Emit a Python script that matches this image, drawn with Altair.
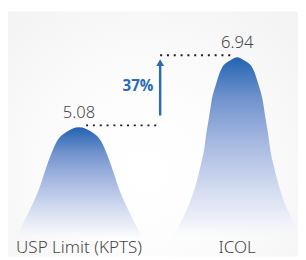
import altair as alt
import pandas as pd

# ---- data ----
categories = ["USP Limit (KPTS)", "ICOL"]
cat_pos = [0.0, 1.0]
values = [5.08, 6.94]
value_labels = ["5.08", "6.94"]
change_label = "37%"

# bell profiles: offset from centre (x units) and height (value units), peak outward
left_dx = [0.0, 0.043, 0.080, 0.1415, 0.178, 0.215, 0.249, 0.292, 0.332, 0.363, 0.394]
left_v = [5.08, 5.044, 4.953, 4.695, 4.351, 3.920, 3.488, 3.059, 2.713, 2.455, 2.214]
right_dx = [0.0, 0.043, 0.0985, 0.135, 0.162, 0.178, 0.195, 0.209, 0.231, 0.257, 0.289, 0.332, 0.375, 0.406]
right_v = [6.94, 6.858, 6.641, 6.212, 5.780, 5.349, 4.920, 4.488, 4.057, 3.628, 3.196, 2.765, 2.421, 2.163]
bell_base = 2.10

# annotation geometry (data units)
arrow_x = 0.513
arrow_from = 5.393
arrow_head = 6.795
label_y = 1.749
pct_y = 6.038
left_line_start = 0.045
right_line_end = 0.978

# ---- tables ----
rows = []
for name, c, dxs, vs in [("left", cat_pos[0], left_dx, left_v), ("right", cat_pos[1], right_dx, right_v)]:
    pts = [(c - d, v) for d, v in zip(dxs[::-1], vs[::-1])] + [(c + d, v) for d, v in zip(dxs[1:], vs[1:])]
    for x, v in pts:
        rows.append({"bell": name, "x": x, "v": v, "base": bell_base})
bells = pd.DataFrame(rows)

cats = pd.DataFrame({"cat": categories, "x": cat_pos, "v": values, "lab": value_labels, "ly": [label_y] * 2})
lines = pd.DataFrame({
    "x": [cat_pos[0] + left_line_start, arrow_x],
    "x2": [arrow_x, right_line_end],
    "v": values,
})
arrow = pd.DataFrame({"x": [arrow_x], "y": [arrow_from], "y2": [arrow_head], "lab": [change_label], "ty": [pct_y]})

xs = alt.Scale(domain=[-0.4492, 1.3846], nice=False, zero=False)
ys = alt.Scale(domain=[1.646, 8.158], nice=False, zero=False)

BLUE = "#2a6bb6"
TXT = "#474747"
FONT = "Noto Sans"

bg = alt.Chart(pd.DataFrame({"a": [0]})).mark_rect(
    fill={"gradient": "radial", "x1": 0.48, "y1": 0.62, "r1": 0, "x2": 0.48, "y2": 0.62, "r2": 0.85,
          "stops": [{"offset": 0, "color": "#ffffff"}, {"offset": 0.3, "color": "#fdfdfd"},
                    {"offset": 0.75, "color": "#f5f5f5"}, {"offset": 1, "color": "#f2f2f2"}]}
).encode(x=alt.value(0), x2=alt.value("width"), y=alt.value(0), y2=alt.value("height"))

bell_fill = {"gradient": "linear", "x1": 0, "y1": 0, "x2": 0, "y2": 1,
             "stops": [{"offset": 0, "color": "#2363b1"},
                       {"offset": 0.22, "color": "#6f92cd"},
                       {"offset": 0.48, "color": "#a8bae2"},
                       {"offset": 0.72, "color": "#d2dbf0"},
                       {"offset": 0.9, "color": "#eef1f9"},
                       {"offset": 1, "color": "rgba(248,248,250,0)"}]}

area = alt.Chart(bells).mark_area(interpolate="monotone", fill=bell_fill).encode(
    x=alt.X("x:Q", scale=xs, axis=None),
    y=alt.Y("v:Q", scale=ys, axis=None),
    y2="base:Q",
    detail="bell:N",
)

dots = alt.Chart(lines).mark_rule(color="#1a1a1a", strokeWidth=2, strokeDash=[2, 5], yOffset=-2).encode(
    x=alt.X("x:Q", scale=xs), x2="x2:Q", y=alt.Y("v:Q", scale=ys)
)

shaft = alt.Chart(arrow).mark_rule(color=BLUE, strokeWidth=2.5).encode(
    x=alt.X("x:Q", scale=xs), y=alt.Y("y:Q", scale=ys), y2="y2:Q"
)
head = alt.Chart(arrow).mark_point(shape="triangle-up", filled=True, size=64, color=BLUE, opacity=1).encode(
    x=alt.X("x:Q", scale=xs), y=alt.Y("y2:Q", scale=ys)
)
pct = alt.Chart(arrow).mark_text(font="Open Sans", fontSize=15.5, fontWeight="bold", color=BLUE, align="right",
                                 baseline="alphabetic", dx=-7).encode(
    x=alt.X("x:Q", scale=xs), y=alt.Y("ty:Q", scale=ys), text="lab:N"
)

vals = alt.Chart(cats).mark_text(font=FONT, fontSize=17, fontWeight=300, color=TXT, align="center",
                                 baseline="alphabetic", dy=-10).encode(
    x=alt.X("x:Q", scale=xs), y=alt.Y("v:Q", scale=ys), text="lab:N"
)
names = alt.Chart(cats).mark_text(font=FONT, fontSize=17.5, fontWeight=300, color=TXT, align="center",
                                  baseline="alphabetic").encode(
    x=alt.X("x:Q", scale=xs), y=alt.Y("ly:Q", scale=ys), text="cat:N"
)

chart = alt.layer(bg, area, dots, shaft, head, pct, vals, names).properties(
    width=298, height=252, autosize=alt.AutoSizeParams(type="none"), padding=0, background="#ffffff"
).configure_view(strokeWidth=0)

chart.save("out.html", embed_options={"renderer": "svg", "actions": False})
